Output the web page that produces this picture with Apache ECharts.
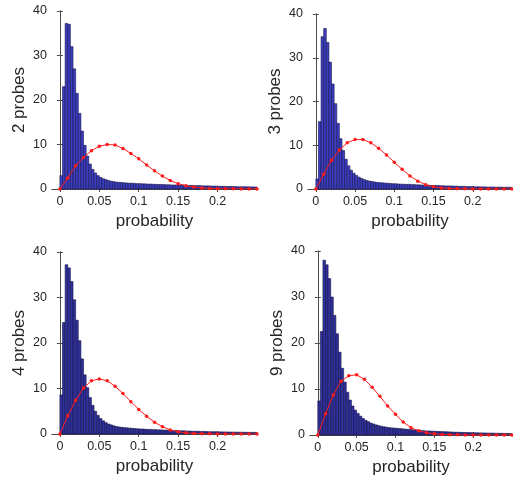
<!DOCTYPE html>
<html>
<head>
<meta charset="utf-8">
<script src="https://cdn.jsdelivr.net/npm/echarts@6/dist/echarts.min.js"></script>
<style>
  html, body { margin: 0; padding: 0; background: #fff; }
  #chart { width: 513px; height: 483px; }
</style>
</head>
<body>
<div id="chart"></div>
<script>
// x ticks shared by all four panels
const xTicks = [0, 0.05, 0.1, 0.15, 0.2];
const binWidth = 0.25 / 75;

// positions of the red fit markers
const fitX = [0, 0.01, 0.02, 0.03, 0.04, 0.05, 0.06, 0.07, 0.08, 0.09, 0.1, 0.11, 0.12,
  0.13, 0.14, 0.15, 0.16, 0.17, 0.18, 0.19, 0.2, 0.21, 0.22, 0.23, 0.24, 0.25];

const panelNames = ['2 probes', '3 probes', '4 probes', '9 probes'];

// histogram heights, bins from 0 to 0.25
const hist2 = [3.0, 23.0, 37.2, 37.0, 32.0, 27.0, 21.5, 17.0, 13.0, 9.8,
  7.4, 5.6, 4.4, 3.6, 3.0, 2.6, 2.3, 2.1, 1.9, 1.75,
  1.65, 1.55, 1.5, 1.45, 1.4, 1.35, 1.3, 1.3, 1.25, 1.2,
  1.2, 1.15, 1.15, 1.1, 1.1, 1.05, 1.05, 1.0, 1.0, 1.0,
  0.95, 0.95, 0.9, 0.9, 0.9, 0.85, 0.85, 0.85, 0.8, 0.8,
  0.8, 0.75, 0.75, 0.75, 0.7, 0.7, 0.7, 0.65, 0.65, 0.65,
  0.6, 0.6, 0.6, 0.55, 0.55, 0.55, 0.55, 0.5, 0.5, 0.5,
  0.5, 0.48, 0.47, 0.46, 0.45];
const hist3 = [2.3, 15.4, 34.8, 36.7, 33.5, 29.0, 24.0, 19.5, 15.0, 11.5,
  8.8, 6.8, 5.3, 4.3, 3.6, 3.1, 2.7, 2.4, 2.15, 1.95,
  1.8, 1.7, 1.6, 1.5, 1.45, 1.4, 1.35, 1.3, 1.25, 1.2,
  1.2, 1.15, 1.1, 1.1, 1.05, 1.05, 1.0, 1.0, 0.95, 0.95,
  0.9, 0.9, 0.85, 0.85, 0.8, 0.8, 0.8, 0.75, 0.75, 0.7,
  0.7, 0.7, 0.65, 0.65, 0.6, 0.6, 0.6, 0.55, 0.55, 0.55,
  0.5, 0.5, 0.5, 0.48, 0.47, 0.46, 0.45, 0.44, 0.43, 0.42,
  0.41, 0.4, 0.4, 0.39, 0.38];
const hist4 = [8.6, 24.5, 37.2, 36.5, 33.5, 29.5, 25.0, 20.5, 16.5, 13.0,
  10.2, 8.0, 6.3, 5.0, 4.1, 3.4, 2.9, 2.5, 2.2, 2.0,
  1.8, 1.65, 1.55, 1.45, 1.4, 1.35, 1.3, 1.25, 1.2, 1.15,
  1.1, 1.1, 1.05, 1.0, 1.0, 0.95, 0.95, 0.9, 0.9, 0.85,
  0.85, 0.8, 0.8, 0.75, 0.75, 0.7, 0.7, 0.7, 0.65, 0.65,
  0.6, 0.6, 0.6, 0.55, 0.55, 0.55, 0.5, 0.5, 0.5, 0.48,
  0.47, 0.46, 0.45, 0.44, 0.43, 0.42, 0.41, 0.4, 0.39, 0.38,
  0.37, 0.36, 0.36, 0.35, 0.35];
const hist9 = [7.4, 22.5, 38.0, 37.0, 34.0, 30.0, 26.0, 22.0, 18.0, 14.5,
  11.5, 9.3, 7.6, 6.3, 5.4, 4.7, 4.1, 3.6, 3.2, 2.9,
  2.6, 2.4, 2.2, 2.05, 1.9, 1.8, 1.7, 1.6, 1.55, 1.5,
  1.45, 1.4, 1.35, 1.3, 1.25, 1.2, 1.15, 1.1, 1.05, 1.0,
  0.95, 0.9, 0.88, 0.85, 0.82, 0.8, 0.77, 0.75, 0.72, 0.7,
  0.68, 0.65, 0.62, 0.6, 0.58, 0.56, 0.55, 0.53, 0.52, 0.5,
  0.48, 0.47, 0.46, 0.45, 0.43, 0.42, 0.41, 0.4, 0.38, 0.37,
  0.36, 0.35, 0.34, 0.33, 0.32];

// red fitted curves at fitX
const fit2 = [0, 2.5, 5.2, 7.1, 8.6, 9.6, 10.0, 9.9, 9.1, 8.0, 6.8, 5.4, 4.1, 2.9, 1.9, 1.2,
  0.75, 0.45, 0.22, 0.12, 0.08, 0.05, 0.03, 0.02, 0.01, 0.01];
const fit3 = [0, 3.4, 6.6, 8.9, 10.6, 11.3, 11.3, 10.6, 9.3, 7.8, 6.1, 4.5, 3.0, 1.8, 1.0, 0.5,
  0.25, 0.12, 0.06, 0.03, 0.02, 0.01, 0.01, 0, 0, 0];
const fit4 = [0, 4.0, 7.4, 10.1, 11.7, 12.1, 11.7, 10.5, 8.9, 7.1, 5.4, 3.9, 2.6, 1.6, 0.9, 0.5,
  0.25, 0.12, 0.06, 0.03, 0.02, 0.01, 0.01, 0, 0, 0];
const fit9 = [0, 4.6, 8.7, 11.7, 12.9, 13.1, 12.1, 10.4, 8.4, 6.3, 4.5, 2.8, 1.6, 0.9, 0.5, 0.25,
  0.12, 0.06, 0.03, 0.02, 0.01, 0.01, 0, 0, 0, 0];

const panels = [
  { name: panelNames[0], hist: hist2, fit: fit2, grid: { left: 52, top: 11, width: 205, height: 178 }, fill: '#3d3dc2' },
  { name: panelNames[1], hist: hist3, fit: fit3, grid: { left: 308, top: 14, width: 204, height: 175 }, fill: '#3d3dc2' },
  { name: panelNames[2], hist: hist4, fit: fit4, grid: { left: 52, top: 252, width: 205, height: 182 }, fill: '#30309c' },
  { name: panelNames[3], hist: hist9, fit: fit9, grid: { left: 310, top: 251, width: 202, height: 184 }, fill: '#30309c' }
];

const font = 'Liberation Sans, Arial, sans-serif';
const ink = '#262626';
const frame = '#4a4a4a';

const chart = echarts.init(document.getElementById('chart'));

const grids = [];
const xAxes = [];
const yAxes = [];
const series = [];

panels.forEach((p, i) => {
  grids.push(p.grid);
  // bottom axis with labels
  xAxes.push({
    type: 'value', gridIndex: i, min: -0.01, max: 0.25, position: 'bottom',
    name: 'probability', nameLocation: 'middle', nameGap: 24,
    nameTextStyle: { fontSize: 17, color: ink, fontFamily: font },
    axisLine: { show: true, lineStyle: { color: frame, width: 1 } },
    axisTick: { show: true, inside: true, length: 3, customValues: xTicks, lineStyle: { color: frame } },
    axisLabel: { customValues: xTicks, fontSize: 12.5, color: ink, fontFamily: font, margin: 6 },
    splitLine: { show: false }
  });
  // top frame
  xAxes.push({
    type: 'value', gridIndex: i, min: -0.01, max: 0.25, position: 'top',
    axisLine: { show: true, lineStyle: { color: frame, width: 1 } },
    axisTick: { show: true, inside: true, length: 3, customValues: xTicks, lineStyle: { color: frame } },
    axisLabel: { show: false },
    splitLine: { show: false }
  });
  yAxes.push({
    type: 'value', gridIndex: i, min: 0, max: 40, interval: 10, position: 'left',
    name: p.name, nameLocation: 'middle', nameGap: 24, nameRotate: 90,
    nameTextStyle: { fontSize: 17, color: ink, fontFamily: font },
    axisLine: { show: true, lineStyle: { color: frame, width: 1 } },
    axisTick: { show: true, inside: true, length: 3, lineStyle: { color: frame } },
    axisLabel: { fontSize: 12.5, color: ink, fontFamily: font, margin: 5 },
    splitLine: { show: false }
  });
  yAxes.push({
    type: 'value', gridIndex: i, min: 0, max: 40, interval: 10, position: 'right',
    axisLine: { show: true, lineStyle: { color: frame, width: 1 } },
    axisTick: { show: true, inside: true, length: 3, lineStyle: { color: frame } },
    axisLabel: { show: false },
    splitLine: { show: false }
  });

  series.push({
    type: 'custom',
    xAxisIndex: 2 * i, yAxisIndex: 2 * i,
    data: p.hist.map((h, k) => [k * binWidth, (k + 1) * binWidth, h]),
    encode: { x: [0, 1], y: 2 },
    renderItem: (params, api) => {
      const topLeft = api.coord([api.value(0), api.value(2)]);
      const bottomRight = api.coord([api.value(1), 0]);
      return {
        type: 'rect',
        shape: {
          x: topLeft[0], y: topLeft[1],
          width: bottomRight[0] - topLeft[0],
          height: bottomRight[1] - topLeft[1]
        },
        style: { fill: p.fill, stroke: '#16164a', lineWidth: 0.6 }
      };
    },
    z: 2
  });
  series.push({
    type: 'line',
    xAxisIndex: 2 * i, yAxisIndex: 2 * i,
    data: fitX.map((x, k) => [x, p.fit[k]]),
    symbol: 'circle', symbolSize: 3.5, showSymbol: true,
    lineStyle: { color: '#ff1a1a', width: 1 },
    itemStyle: { color: '#ff1a1a' },
    z: 3
  });
});

chart.setOption({
  animation: false,
  backgroundColor: '#fff',
  grid: grids,
  xAxis: xAxes,
  yAxis: yAxes,
  series: series
});
</script>
</body>
</html>
